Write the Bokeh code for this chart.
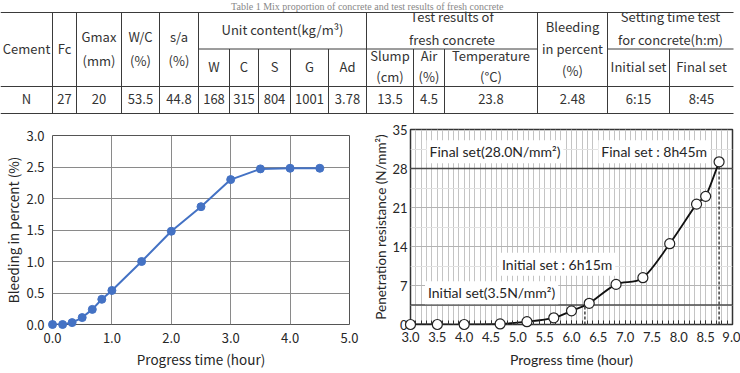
import numpy as np
from bokeh.plotting import figure
from bokeh.layouts import column, row
from bokeh.models import FixedTicker, PrintfTickFormatter, Range1d, Label, Span, Spacer
from bokeh.core.properties import value
from bokeh.embed import file_html
from bokeh.resources import INLINE

# ---------------- Table 1: mix proportion and fresh concrete tests ----------------
table_title = "Table 1  Mix proportion of concrete and test results of fresh concrete"
mix_headers = [["Cement"], ["Fc"], ["Gmax", "(mm)"], ["W/C", "(%)"], ["s/a", "(%)"]]
mix_values = ["N", "27", "20", "53.5", "44.8"]
unit_group = "Unit content(kg/m³)"
unit_headers = ["W", "C", "S", "G", "Ad"]
unit_values = ["168", "315", "804", "1001", "3.78"]
fresh_group = ["Test results of", "fresh concrete"]
fresh_headers = [["Slump", "(cm)"], ["Air", "(%)"], ["Temperature", "(°C)"]]
fresh_values = ["13.5", "4.5", "23.8"]
bleeding_header = ["Bleeding", "in percent", "(%)"]
bleeding_value = "2.48"
setting_group = ["Setting time test", "for concrete(h:m)"]
setting_headers = ["Initial set", "Final set"]
setting_values = ["6:15", "8:45"]

# ---------------- Bleeding test ----------------
bleed_hours = [0.0, 0.17, 0.33, 0.5, 0.67, 0.83, 1.0, 1.5, 2.0, 2.5, 3.0, 3.5, 4.0, 4.5]
bleed_percent = [0.0, 0.0, 0.03, 0.11, 0.24, 0.40, 0.54, 1.00, 1.48, 1.87, 2.30, 2.47, 2.48, 2.48]
bleed_x_ticks = [0, 1, 2, 3, 4, 5]
bleed_y_ticks = [0.0, 0.5, 1.0, 1.5, 2.0, 2.5, 3.0]

# ---------------- Setting time test (penetration resistance) ----------------
pen_hours = [3.0, 3.5, 4.0, 4.67, 5.17, 5.67, 6.0, 6.33, 6.83, 7.33, 7.83, 8.33, 8.5, 8.75]
pen_resistance = [0.0, 0.0, 0.0, 0.1, 0.5, 1.2, 2.45, 3.8, 7.2, 8.4, 14.5, 21.6, 23.0, 29.2]
set_thresholds = [3.5, 28.0]
pen_x_ticks = [3.0, 3.5, 4.0, 4.5, 5.0, 5.5, 6.0, 6.5, 7.0, 7.5, 8.0, 8.5, 9.0]
pen_y_ticks = [0, 7, 14, 21, 28, 35]

FONT_JP = "Noto Sans CJK JP"
FONT_EN = "Lato"
TEXT = "#262626"
BLUE = "#4472c4"

# =============== table ===============
tbl = figure(width=740, height=120, x_range=Range1d(0, 740), y_range=Range1d(120, 0),
             x_axis_type=None, y_axis_type=None, output_backend="svg", title=None,
             toolbar_location=None, min_border=0)
tbl.grid.visible = False
tbl.outline_line_color = None

mix_edges = [0, 52, 76, 121, 159, 198]
unit_edges = [198, 229, 258, 290, 328, 366]
fresh_edges = [366, 413, 444, 537]
bleed_edges = [537, 607]
set_edges = [607, 669, 733]
y_top, y_mid, y_head, y_bot = 12, 48.5, 86, 113
right_end = set_edges[-1]

def centers(edges):
    return [(a + b) / 2 for a, b in zip(edges[:-1], edges[1:])]

def stacked(lines, yc, gap):
    n = len(lines)
    return [yc + (i - (n - 1) / 2) * gap for i in range(n)]

tx, ty, tt = [], [], []

def put(x, ys, lines):
    for y, s in zip(ys, lines):
        tx.append(x); ty.append(y - 1.5); tt.append(s)

head_c = (y_top + y_head) / 2
sub_c = (y_mid + y_head) / 2
grp_c = (y_top + y_mid) / 2
val_c = (y_head + y_bot) / 2

for xc, lines, v in zip(centers(mix_edges), mix_headers, mix_values):
    put(xc, stacked(lines, head_c, 24), lines)
    put(xc, [val_c], [v])
put((unit_edges[0] + unit_edges[-1]) / 2, [grp_c], [unit_group])
for xc, h, v in zip(centers(unit_edges), unit_headers, unit_values):
    put(xc, [sub_c], [h])
    put(xc, [val_c], [v])
put((fresh_edges[0] + fresh_edges[-1]) / 2, stacked(fresh_group, grp_c - 1, 23), fresh_group)
for xc, lines, v in zip(centers(fresh_edges), fresh_headers, fresh_values):
    put(xc, stacked(lines, sub_c, 21), lines)
    put(xc, [val_c], [v])
bx = centers(bleed_edges)[0]
put(bx, stacked(bleeding_header, head_c, 22), bleeding_header)
put(bx, [val_c], [bleeding_value])
put((set_edges[0] + set_edges[-1]) / 2, stacked(setting_group, grp_c - 1, 23), setting_group)
for xc, h, v in zip(centers(set_edges), setting_headers, setting_values):
    put(xc, [sub_c], [h])
    put(xc, [val_c], [v])

tbl.text(x=tx, y=ty, text=tt, text_align="center", text_baseline="middle",
         text_font=value(FONT_JP), text_font_size="13px", text_color="#333333")

# table rules
hx0 = [0, 0, 0, unit_edges[0], set_edges[0]]
hx1 = [right_end, right_end, right_end, fresh_edges[-1], right_end]
hy = [y_top, y_head, y_bot, y_mid, y_mid]
tbl.segment(x0=hx0, y0=hy, x1=hx1, y1=hy, line_color="#3a3a3a", line_width=1)
full_v = mix_edges[1:] + [unit_edges[-1], fresh_edges[-1], bleed_edges[-1]]
part_v = unit_edges[1:-1] + fresh_edges[1:-1] + set_edges[1:-1]
tbl.segment(x0=full_v, y0=[y_top] * len(full_v), x1=full_v, y1=[y_bot] * len(full_v),
            line_color="#3a3a3a", line_width=1)
tbl.segment(x0=part_v, y0=[y_mid] * len(part_v), x1=part_v, y1=[y_bot] * len(part_v),
            line_color="#3a3a3a", line_width=1)

# caption above the table
tbl.text(x=[368], y=[5.5], text=[table_title], text_align="center", text_baseline="middle",
         text_font=value("Liberation Serif"), text_font_size="10px", text_color="#888888")


def style_axes(p, font, size, label_size):
    for ax in (p.xaxis, p.yaxis):
        ax.major_label_text_font = font
        ax.major_label_text_font_size = size
        ax.major_label_text_color = TEXT
        ax.axis_label_text_font = font
        ax.axis_label_text_font_size = label_size
        ax.axis_label_text_font_style = "normal"
        ax.axis_label_text_color = TEXT
        ax.axis_line_color = None
        ax.major_tick_line_color = None
        ax.minor_tick_line_color = None
        ax.major_tick_out = 0
        ax.minor_tick_out = 0
        ax.major_tick_in = 0
        ax.minor_tick_in = 0


# =============== bleeding chart ===============
left = figure(width=370, height=247, x_range=Range1d(0, 5), y_range=Range1d(0, 3),
              output_backend="svg", toolbar_location=None, title=None,
              min_border_left=52, min_border_right=21, min_border_top=9, min_border_bottom=49)
left.xaxis.ticker = FixedTicker(ticks=bleed_x_ticks)
left.yaxis.ticker = FixedTicker(ticks=bleed_y_ticks)
left.xaxis.formatter = PrintfTickFormatter(format="%.1f")
left.yaxis.formatter = PrintfTickFormatter(format="%.1f")
left.xaxis.axis_label = "Progress time (hour)"
left.yaxis.axis_label = "Bleeding in percent (%)"
style_axes(left, FONT_JP, "13px", "13.5px")
left.xaxis.major_label_standoff = 8
left.xaxis.axis_label_standoff = 3
left.yaxis.major_label_standoff = 8
left.yaxis.axis_label_standoff = 0
left.grid.grid_line_color = "#8a8a8a"
left.grid.grid_line_width = 1
left.outline_line_color = "#555555"
left.outline_line_width = 1

left.line(bleed_hours, bleed_percent, line_color=BLUE, line_width=2)
dots = left.scatter(bleed_hours, bleed_percent, size=8, fill_color=BLUE, line_color=BLUE)
dots.level = "overlay"

# =============== penetration resistance chart ===============
right = figure(width=370, height=253, x_range=Range1d(3, 9), y_range=Range1d(0, 35),
               output_backend="svg", toolbar_location=None, title=None,
               min_border_left=39, min_border_right=8, min_border_top=9, min_border_bottom=49)
minor_x = [round(v, 1) for v in np.arange(3.0, 9.0001, 0.1)]
right.xaxis.ticker = FixedTicker(ticks=pen_x_ticks, minor_ticks=minor_x)
minor_y = [t + 3.5 for t in pen_y_ticks[:-1]]
right.yaxis.ticker = FixedTicker(ticks=pen_y_ticks, minor_ticks=minor_y)
right.xaxis.formatter = PrintfTickFormatter(format="%.1f")
right.xaxis.axis_label = "Progress time (hour)"
right.yaxis.axis_label = "Penetration resistance (N/mm²)"
style_axes(right, FONT_EN, "13px", "14px")
right.yaxis.axis_label_text_font_size = "13.5px"
right.xaxis.major_tick_line_color = "#333333"
right.xaxis.minor_tick_line_color = "#333333"
right.xaxis.major_tick_in = 4
right.xaxis.minor_tick_in = 4
right.xaxis.major_label_standoff = 7
right.xaxis.axis_label_standoff = 6
right.yaxis.major_label_standoff = 3
right.yaxis.axis_label_standoff = 0
right.xgrid.grid_line_color = "#c4c4c4"
right.xgrid.minor_grid_line_color = "#c4c4c4"
right.ygrid.grid_line_color = "#b4b4b4"
right.ygrid.minor_grid_line_color = "#e2e2e2"
right.outline_line_color = "#333333"
right.outline_line_width = 1.5

for thr in set_thresholds:
    right.add_layout(Span(location=thr, dimension="width", line_color="#4a4a4a",
                          line_width=1.5, level="underlay"))

# dashed drop lines at initial / final set
set_hours = [int(s.split(":")[0]) + int(s.split(":")[1]) / 60 for s in setting_values]
drop_top = [float(np.interp(h, pen_hours, pen_resistance)) for h in set_hours]
right.segment(x0=set_hours, y0=[0, 0], x1=set_hours, y1=drop_top,
              line_color="#222222", line_width=1.3, line_dash="3 2")

# smoothed curve through the measured points (Catmull-Rom as cubic Bezier)
px = np.array(pen_hours)
py = np.array(pen_resistance)
n = len(px)
ex = np.concatenate([[px[0]], px, [px[-1]]])
ey = np.concatenate([[py[0]], py, [py[-1]]])
i = np.arange(n - 1)
right.bezier(x0=px[:-1], y0=py[:-1], x1=px[1:], y1=py[1:],
             cx0=px[:-1] + (ex[i + 2] - ex[i]) / 6, cy0=py[:-1] + (ey[i + 2] - ey[i]) / 6,
             cx1=px[1:] - (ex[i + 3] - ex[i + 1]) / 6, cy1=py[1:] - (ey[i + 3] - ey[i + 1]) / 6,
             line_color="#111111", line_width=1.8)
circles = right.scatter(pen_hours, pen_resistance, size=10, fill_color="white",
                        line_color="#222222", line_width=1.2)
circles.level = "overlay"

init_h, init_m = setting_values[0].split(":")
fin_h, fin_m = setting_values[1].split(":")
notes = [
    (3.3, 31.0, f"Final set({set_thresholds[1]:.1f}N/mm²)"),
    (6.5, 31.0, f"Final set : {fin_h}h{fin_m}m"),
    (4.65, 10.8, f"Initial set : {init_h}h{init_m}m"),
    (3.27, 5.7, f"Initial set({set_thresholds[0]:.1f}N/mm²)"),
]
for nx, ny, txt in notes:
    right.add_layout(Label(x=nx, y=ny, text=txt, text_baseline="middle", text_font=FONT_EN,
                           text_font_size="14px", text_color=TEXT,
                           background_fill_color="white", padding=3))

layout = column(tbl,
                row(column(Spacer(width=370, height=6), left, spacing=0), right, spacing=0),
                spacing=0)
open("out.html", "w").write(file_html(layout, INLINE))
